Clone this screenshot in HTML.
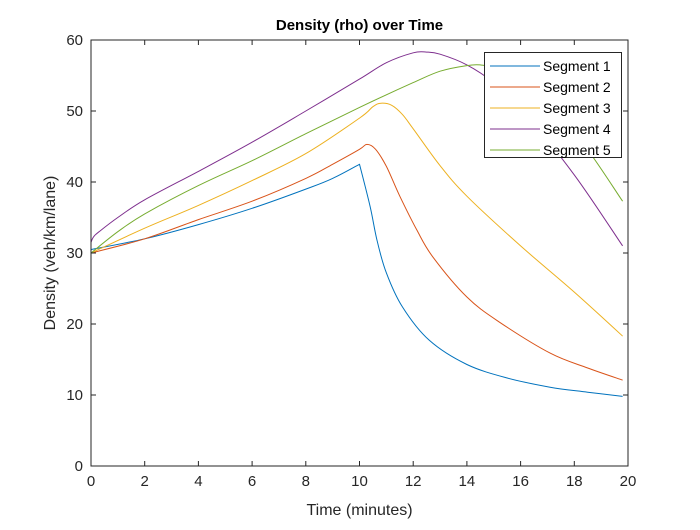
<!DOCTYPE html>
<html><head><meta charset="utf-8"><style>
body{margin:0;background:#fff;width:700px;height:525px;overflow:hidden;font-family:"Liberation Sans",sans-serif}
svg text{font-family:"Liberation Sans",sans-serif}
</style></head><body>
<svg id="chart" width="700" height="525" xmlns="http://www.w3.org/2000/svg">
<rect x="0" y="0" width="700" height="525" fill="#fff"/>
<g id="plot"></g>
</svg>
<script>
const xTicks=[0,2,4,6,8,10,12,14,16,18,20];
const yTicks=[0,10,20,30,40,50,60];
const seriesNames=["Segment 1","Segment 2","Segment 3","Segment 4","Segment 5"];
const seriesColors=["#0072BD","#D95319","#EDB120","#7E2F8E","#77AC30"];
const t1=[0,2,4,6,8,9,10,10.4,10.65,11,11.6,12.6,14,15.5,17.1,18.5,19.8];
const v1=[30.5,32,34,36.3,39,40.5,42.5,36.5,31.8,27.2,22.4,17.7,14.3,12.4,11.1,10.4,9.8];
const t2=[0,2,4,6,8,9,10,10.28,10.6,11,11.5,12.14,12.74,14,15.2,17.1,18.5,19.8];
const v2=[30,32,34.7,37.3,40.5,42.5,44.6,45.3,44.6,42.2,38,33.2,29.4,23.8,20.3,15.9,13.8,12.1];
const t3=[0,2,4,6,8,10,10.5,10.8,11.2,11.6,12,13,14,16,18,19.8];
const v3=[30,33.5,36.7,40.2,44,49,50.6,51.1,50.8,49.5,47.5,42.3,38,31,24.5,18.3];
const t4=[0,0.1,0.3,1,2,4,6,8,10,11,12,12.5,13,14,15,16,18,19.8];
const v4=[31.5,32.3,33,35,37.5,41.5,45.6,50,54.5,56.8,58.2,58.3,58,56.5,54,50.5,41,31];
const t5=[0,1,2,4,6,8,10,12,13,14,14.5,15,16,18,19.8];
const v5=[30,33,35.5,39.5,43,46.8,50.5,54,55.6,56.4,56.5,56,54,47,37.3];
const seriesT=[t1,t2,t3,t4,t5], seriesV=[v1,v2,v3,v4,v5];
const corners=[[6],[],[],[],[]];
const L=91,R=628,T=40,B=466;
const sx=t=>L+(t-0)/20*(R-L), sy=v=>B-(v/60)*(B-T);
const NS="http://www.w3.org/2000/svg", g=document.getElementById('plot');
function mk(tag,a,txt){const e=document.createElementNS(NS,tag);for(const k in a)e.setAttribute(k,a[k]);if(txt!=null)e.textContent=txt;g.appendChild(e);return e;}
function smoothPath(pts,cr){
 let d='M'+pts[0][0].toFixed(1)+','+pts[0][1].toFixed(1);
 for(let i=0;i<pts.length-1;i++){
  const p1=pts[i],p2=pts[i+1];
  const p0=(i>0&&!cr.includes(i))?pts[i-1]:p1;
  const p3=(i+2<pts.length&&!cr.includes(i+1))?pts[i+2]:p2;
  const c1=[p1[0]+(p2[0]-p0[0])/6,p1[1]+(p2[1]-p0[1])/6];
  const c2=[p2[0]-(p3[0]-p1[0])/6,p2[1]-(p3[1]-p1[1])/6];
  d+=' C'+c1.map(n=>n.toFixed(1)).join(',')+' '+c2.map(n=>n.toFixed(1)).join(',')+' '+p2[0].toFixed(1)+','+p2[1].toFixed(1);
 }
 return d;
}
seriesT.forEach((ts,i)=>{
 const pts=ts.map((t,j)=>[sx(t),sy(seriesV[i][j])]);
 const p=mk('path',{d:smoothPath(pts,corners[i]),fill:'none',stroke:seriesColors[i],'stroke-width':1});
 
 
});
const box=mk('rect',{x:L,y:T,width:R-L,height:B-T,fill:'none',stroke:'#262626','stroke-width':1});


xTicks.forEach(v=>{
 const x=sx(v);
 mk('line',{x1:x,y1:B,x2:x,y2:B-5,stroke:'#262626'});
 mk('line',{x1:x,y1:T,x2:x,y2:T+5,stroke:'#262626'});
 const tx=mk('text',{x:x,y:B+20,'text-anchor':'middle','font-size':15,fill:'#262626'},String(v));
 
 
});
yTicks.forEach(v=>{
 const y=sy(v);
 mk('line',{x1:L,y1:y,x2:L+5,y2:y,stroke:'#262626'});
 mk('line',{x1:R,y1:y,x2:R-5,y2:y,stroke:'#262626'});
 const tx=mk('text',{x:L-8,y:y+5,'text-anchor':'end','font-size':15,fill:'#262626'},String(v));
 
 
});
const ti=mk('text',{x:(L+R)/2,y:30,'text-anchor':'middle','font-size':15,'font-weight':'bold',fill:'#000'},'Density (rho) over Time');


const xl=mk('text',{x:(L+R)/2,y:515,'text-anchor':'middle','font-size':16,fill:'#262626'},'Time (minutes)');


const yl=mk('text',{x:0,y:0,'text-anchor':'middle','font-size':16,fill:'#262626',transform:'translate(55,253) rotate(-90)'},'Density (veh/km/lane)');


const lg=mk('rect',{x:484.5,y:52.5,width:137,height:105,fill:'#fff',stroke:'#262626','stroke-width':1});


seriesNames.forEach((n,i)=>{
 const y=66+i*21;
 mk('line',{x1:490,y1:y,x2:540,y2:y,stroke:seriesColors[i],'stroke-width':1});
 const tx=mk('text',{x:543,y:y+5,'font-size':14,fill:'#000'},n);
 
 
});
</script>
</body></html>
